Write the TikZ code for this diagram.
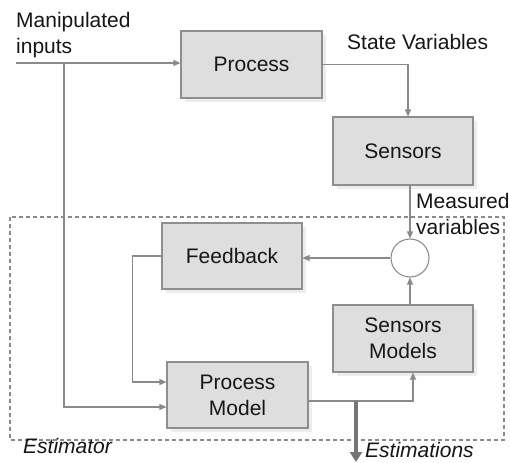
\documentclass[tikz,border=0pt]{standalone}
\usepackage{fontspec}
\setmainfont{Liberation Sans}
\usetikzlibrary{arrows.meta,shadows,calc}
\definecolor{boxfill}{HTML}{DEDEDE}
\definecolor{boxline}{HTML}{8E8E8E}
\definecolor{wire}{HTML}{8A8A8A}
\definecolor{ink}{HTML}{161616}
\definecolor{shade}{HTML}{EDEDED}
\tikzset{
  lbl/.style={font=\fontsize{21}{26}\selectfont, text=ink, inner sep=0pt},
  blk/.style={lbl, rectangle, draw=boxline, fill=boxfill, line width=1.1pt,
    align=center,
    drop shadow={shadow xshift=4pt, shadow yshift=-4pt, fill=shade, opacity=1}},
  junction/.style={circle, draw=boxline, fill=white, line width=1.1pt,
    minimum size=38pt, inner sep=0pt},
  wireline/.style={draw=wire, line width=1.1pt},
  flow/.style={wireline, -{Triangle[length=7pt,width=6pt]}},
  outflow/.style={draw=wire!85!black, line width=4pt, -{Triangle[length=10pt,width=12pt]}},
  frame/.style={draw=wire, line width=1.1pt, dash pattern=on 4pt off 3pt}
}
\begin{document}
\begin{tikzpicture}[x=1pt,y=-1pt]
  \useasboundingbox (0,0) rectangle (510,462);
  \fill[white] (0,0) rectangle (510,462);

  % estimator boundary
  \draw[frame] (10,217) rectangle (504,440);

  % blocks
  \node[blk, minimum width=141pt, minimum height=67pt] (proc) at (251.5,64.5) {Process};
  \node[blk, minimum width=140pt, minimum height=68pt] (sens) at (403,151) {Sensors};
  \node[blk, minimum width=140pt, minimum height=66pt] (fb) at (232,256) {Feedback};
  \node[blk, minimum width=141pt, minimum height=66pt] (pm) at (237.5,395) {Process\\Model};
  \node[blk, minimum width=140pt, minimum height=67pt] (smod) at (403,338.5) {Sensors\\Models};
  \node[junction] (circ) at (410,258) {};

  % labels
  \node[lbl, anchor=north west, align=left] (minp) at (16,12) {Manipulated\\inputs};
  \node[lbl, anchor=west] (state) at (347,42) {State Variables};
  \node[lbl, anchor=west, align=left] (meas) at (416,214) {Measured\\variables};
  \node[lbl, anchor=west, font=\fontsize{21}{26}\selectfont\itshape] (estor) at (23,446) {Estimator};
  \node[lbl, anchor=west, font=\fontsize{21}{26}\selectfont\itshape] (estim) at (365,450) {Estimations};

  % connector end points
  \coordinate (src) at (16,63);
  \coordinate (br) at (64,63);
  \coordinate (tap) at (356,401);
  \coordinate (out) at (356,462);

  % connectors
  \draw[flow] (src) -- (proc.west |- src);
  \draw[flow] (br) |- ([yshift=-12pt]pm.west);
  \draw[flow] (proc.east) -| ([xshift=5pt]sens.north);
  \draw[flow] (sens.south -| circ) -- (circ.north);
  \draw[flow] (circ.west) -- (fb.east |- circ.west);
  \draw[flow] (fb.west) -- ++(-29,0) |- ([yshift=13pt]pm.west);
  \draw[flow] (smod.north -| circ) -- (circ.south);
  \draw[flow] ([yshift=-6pt]pm.east) -| ([xshift=10pt]smod.south);
  \draw[outflow] (tap) -- (out);
\end{tikzpicture}
\end{document}
